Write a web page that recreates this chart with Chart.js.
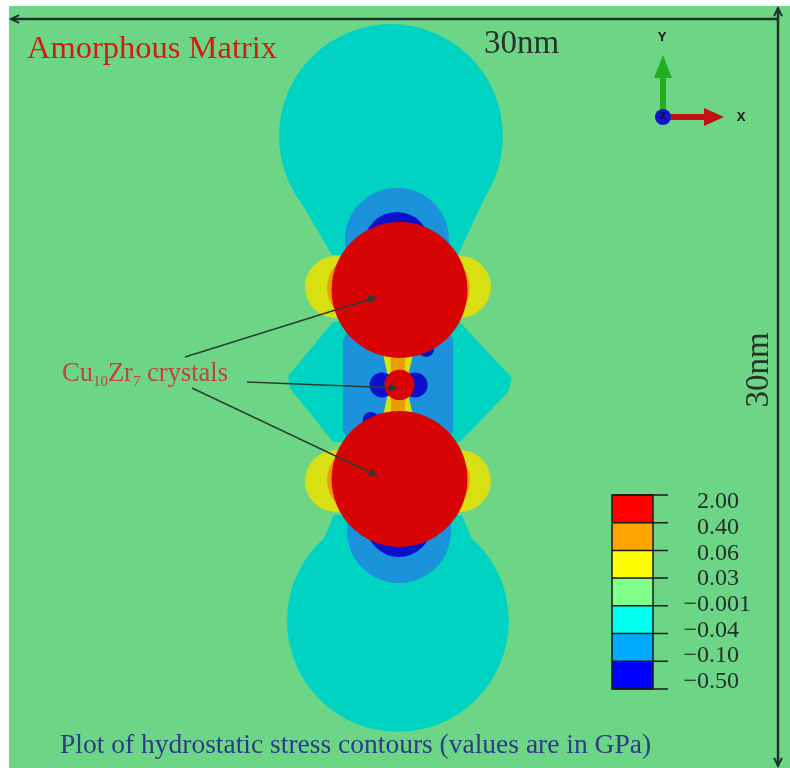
<!DOCTYPE html>
<html lang="en">
<head>
<meta charset="UTF-8">
<title>Hydrostatic stress contours</title>
<script src="https://cdn.jsdelivr.net/npm/chart.js"></script>
<style>
  body { margin: 0; background: #fff; }
</style>
</head>
<body>
<canvas id="stressChart" width="790" height="768"></canvas>
<script>
// simulation box is 30 x 30 nm, everything below is in nm
const crystalX = [15.0, 15.0, 15.0];
const crystalY = [18.82, 15.08, 11.38];
const crystalR = [2.61, 0.58, 2.61];

// -0.04 .. -0.001 GPa (cyan)
const cyanBlobX = [14.67, 14.94];
const cyanBlobY = [24.88, 5.79];
const cyanBlobR = [4.30, 4.26];
const cyanTopX = [10.72, 18.59, 17.25, 12.41];
const cyanTopY = [23.15, 23.15, 20.20, 20.20];
const cyanBottomX = [12.48, 17.40, 18.75, 11.10];
const cyanBottomY = [9.96, 9.96, 6.61, 6.61];
const cyanMidX = [12.45, 17.32, 19.32, 19.17, 17.32, 12.45, 10.79, 10.72];
const cyanMidY = [17.56, 17.56, 15.35, 14.80, 12.83, 12.83, 14.96, 15.43];

// -0.10 .. -0.04 GPa (light blue)
const blueCapX = [14.90, 14.98];
const blueCapY = [20.79, 9.33];
const blueCapR = [2.00, 2.00];
const blueBandX = [13.10, 16.79, 17.06, 17.06, 16.79, 13.10, 12.83, 12.83];
const blueBandY = [17.44, 17.44, 16.85, 13.31, 12.72, 12.72, 13.31, 16.85];

// -0.50 .. -0.10 GPa (dark blue)
const darkX = [14.90, 14.98, 14.33, 15.60, 16.02, 13.90];
const darkY = [20.59, 9.61, 15.08, 15.08, 16.50, 13.70];
const darkR = [1.27, 1.27, 0.48, 0.48, 0.31, 0.31];

// 0.03 .. 0.06 GPa (yellow)
const yellowX = [12.56, 17.32, 12.56, 17.32];
const yellowY = [18.94, 18.94, 11.30, 11.30];
const yellowR = [1.19, 1.19, 1.19, 1.19];
const yellowNeckX = [14.33, 15.56, 15.25, 15.56, 14.33, 14.63];
const yellowNeckY = [16.46, 16.46, 15.08, 13.70, 13.70, 15.08];

// 0.06 .. 0.40 GPa (orange)
const orangeX = [13.56, 16.36, 13.56, 16.36];
const orangeY = [18.90, 18.90, 11.34, 11.34];
const orangeR = [1.34, 1.34, 1.34, 1.34];
const orangeNeckX = [14.67, 15.21, 15.21, 14.67];
const orangeNeckY = [16.46, 16.46, 13.70, 13.70];

// colour bar
const levelLabels = ['2.00', '0.40', '0.06', '0.03', '\u22120.001', '\u22120.04', '\u22120.10', '\u22120.50'];
const levelColors = ['#ff0000', '#ffa500', '#ffff00', '#80ff8c', '#00ffec', '#00aaff', '#0000ff'];

const bgGreen = '#6cd686';
const mapColors = {
  cyan: '#00d3c2', blue: '#1b93da', dark: '#0a10cc',
  yellow: '#d8e014', orange: '#eb9c00', red: '#d80303'
};

const pxRadius = (chart, r) => {
  const s = chart.scales.x;
  if (!s) return 0;
  return s.getPixelForValue(r) - s.getPixelForValue(0);
};

function circles(label, xs, ys, rs, color) {
  return {
    type: 'scatter',
    label: label,
    data: xs.map((x, i) => ({ x: x, y: ys[i], r: rs[i] })),
    backgroundColor: color,
    borderWidth: 0,
    pointBorderWidth: 0,
    pointRadius: c => c.raw ? pxRadius(c.chart, c.raw.r) : 0,
    showLine: false
  };
}

function polygon(label, xs, ys, color) {
  return {
    type: 'line',
    label: label,
    data: xs.map((x, i) => ({ x: x, y: ys[i] })),
    backgroundColor: color,
    borderColor: 'transparent',
    borderWidth: 0,
    pointRadius: 0,
    tension: 0,
    fill: 'shape'
  };
}

// listed bottom layer first
const layers = [
  circles('cyan blobs', cyanBlobX, cyanBlobY, cyanBlobR, mapColors.cyan),
  polygon('cyan top', cyanTopX, cyanTopY, mapColors.cyan),
  polygon('cyan bottom', cyanBottomX, cyanBottomY, mapColors.cyan),
  polygon('cyan middle', cyanMidX, cyanMidY, mapColors.cyan),
  circles('blue caps', blueCapX, blueCapY, blueCapR, mapColors.blue),
  polygon('blue band', blueBandX, blueBandY, mapColors.blue),
  polygon('yellow neck', yellowNeckX, yellowNeckY, mapColors.yellow),
  polygon('orange neck', orangeNeckX, orangeNeckY, mapColors.orange),
  circles('dark blue', darkX, darkY, darkR, mapColors.dark),
  circles('yellow lobes', yellowX, yellowY, yellowR, mapColors.yellow),
  circles('orange lobes', orangeX, orangeY, orangeR, mapColors.orange),
  circles('crystals', crystalX, crystalY, crystalR, mapColors.red)
];
layers.forEach((d, i) => { d.order = layers.length - i; });

function arrowHead(ctx, x1, y1, x2, y2, len, open) {
  const a = Math.atan2(y2 - y1, x2 - x1);
  ctx.beginPath();
  ctx.moveTo(x2 - len * Math.cos(a - 0.45), y2 - len * Math.sin(a - 0.45));
  ctx.lineTo(x2, y2);
  ctx.lineTo(x2 - len * Math.cos(a + 0.45), y2 - len * Math.sin(a + 0.45));
  if (open) { ctx.stroke(); } else { ctx.closePath(); ctx.fill(); }
}

const overlay = {
  id: 'overlay',
  beforeDraw(chart) {
    const { ctx, chartArea: a } = chart;
    ctx.save();
    ctx.fillStyle = bgGreen;
    ctx.fillRect(a.left, a.top, a.right - a.left, a.bottom - a.top);
    ctx.restore();
  },
  afterDraw(chart) {
    const ctx = chart.ctx;
    ctx.save();

    // dimension arrows
    ctx.strokeStyle = '#1e3326';
    ctx.lineWidth = 2.5;
    ctx.beginPath();
    ctx.moveTo(11, 19); ctx.lineTo(779, 19);
    ctx.moveTo(778, 8); ctx.lineTo(778, 766);
    ctx.stroke();
    ctx.lineWidth = 2;
    arrowHead(ctx, 40, 19, 11, 19, 9, true);
    arrowHead(ctx, 778, 40, 778, 8, 9, true);
    arrowHead(ctx, 778, 740, 778, 766, 9, true);

    ctx.fillStyle = '#28332b';
    ctx.font = '33px "Liberation Serif"';
    ctx.textBaseline = 'alphabetic';
    ctx.fillText('30nm', 484, 53);
    ctx.save();
    ctx.translate(768, 370);
    ctx.rotate(-Math.PI / 2);
    ctx.textAlign = 'center';
    ctx.fillText('30nm', 0, 0);
    ctx.restore();

    ctx.fillStyle = '#d41a12';
    ctx.font = '32.5px "Liberation Serif"';
    ctx.fillText('Amorphous Matrix', 27, 58);

    // crystal label with leaders
    const parts = [['Cu', 26.5, 0], ['10', 15, 5], ['Zr', 26.5, 0], ['7', 15, 5], [' crystals', 26.5, 0]];
    let tx = 62;
    ctx.fillStyle = '#c0443f';
    parts.forEach(p => {
      ctx.font = p[1] + 'px "Liberation Serif"';
      ctx.fillText(p[0], tx, 381 + p[2]);
      tx += ctx.measureText(p[0]).width;
    });
    ctx.strokeStyle = '#2b3d33';
    ctx.fillStyle = '#2b3d33';
    ctx.lineWidth = 1.5;
    const leaders = [[185, 357, 377, 297], [247, 382, 398, 388], [192, 388, 378, 476]];
    leaders.forEach(l => {
      ctx.beginPath(); ctx.moveTo(l[0], l[1]); ctx.lineTo(l[2], l[3]); ctx.stroke();
      arrowHead(ctx, l[0], l[1], l[2], l[3], 10, false);
    });

    // caption
    ctx.fillStyle = '#2c3c86';
    ctx.font = '27.5px "Liberation Serif"';
    ctx.fillText('Plot of hydrostatic stress contours (values are in GPa)', 60, 753);

    // colour bar
    const bx = 612, bw = 41, top = 495, step = 27.7;
    levelColors.forEach((c, i) => {
      ctx.fillStyle = c;
      ctx.fillRect(bx, top + i * step, bw, step);
    });
    ctx.strokeStyle = '#1a1a1a';
    ctx.lineWidth = 1.5;
    ctx.strokeRect(bx, top, bw, step * levelColors.length);
    ctx.beginPath();
    for (let i = 0; i <= levelColors.length; i++) {
      ctx.moveTo(bx, top + i * step);
      ctx.lineTo(668, top + i * step);
    }
    ctx.stroke();
    ctx.fillStyle = '#22302a';
    ctx.font = '24px "Liberation Serif"';
    ctx.textBaseline = 'middle';
    const minusW = ctx.measureText('\u2212').width;
    levelLabels.forEach((s, i) => {
      const x = s.startsWith('\u2212') ? 697 - minusW : 697;
      ctx.fillText(s, x, 502 + i * 25.7);
    });

    // axis triad
    ctx.fillStyle = '#22b022';
    ctx.fillRect(660, 76, 6, 36);
    ctx.beginPath(); ctx.moveTo(663, 55); ctx.lineTo(672, 78); ctx.lineTo(654, 78); ctx.closePath(); ctx.fill();
    ctx.fillStyle = '#c01212';
    ctx.fillRect(668, 114, 38, 6);
    ctx.beginPath(); ctx.moveTo(724, 117); ctx.lineTo(704, 108); ctx.lineTo(704, 126); ctx.closePath(); ctx.fill();
    ctx.fillStyle = '#1414c8';
    ctx.beginPath(); ctx.arc(663, 117, 8, 0, Math.PI * 2); ctx.fill();
    ctx.fillStyle = '#0a0a60';
    ctx.font = 'bold 9px "DejaVu Sans"';
    ctx.textAlign = 'center';
    ctx.fillText('Z', 663, 117);
    ctx.fillStyle = '#111';
    ctx.font = 'bold 13px "Liberation Sans"';
    ctx.fillText('Y', 662, 37);
    ctx.fillText('X', 741, 117);

    ctx.restore();
  }
};

new Chart(document.getElementById('stressChart'), {
  type: 'scatter',
  data: { datasets: layers },
  options: {
    responsive: false,
    animation: false,
    events: [],
    layout: { padding: { left: 9, top: 6, right: 0, bottom: 0 }, autoPadding: false },
    scales: {
      x: { type: 'linear', min: 0, max: 30, display: false },
      y: { type: 'linear', min: 0, max: 30, display: false }
    },
    plugins: { legend: { display: false }, tooltip: { enabled: false } }
  },
  plugins: [overlay]
});
</script>
</body>
</html>
